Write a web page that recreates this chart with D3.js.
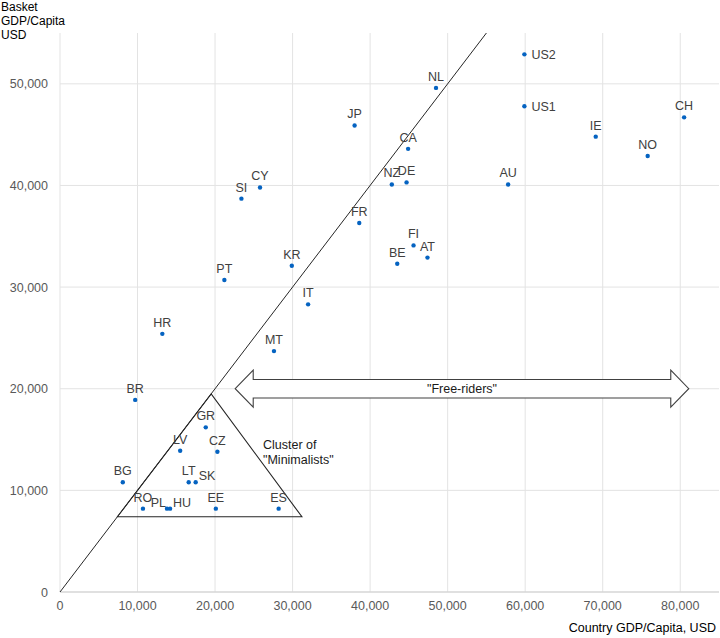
<!DOCTYPE html>
<html>
<head>
<meta charset="utf-8">
<script src="https://cdn.jsdelivr.net/npm/d3@7"></script>
<style>
  body { margin: 0; background: #fff; }
  svg { display: block; font-family: "Liberation Sans", Arial, sans-serif; }
</style>
</head>
<body>
<div id="chart"></div>
<script>
// Country GDP per capita vs basket GDP per capita (USD)
const countries  = ['US2', 'NL', 'US1', 'CH', 'JP', 'IE', 'CA', 'NO', 'DE', 'NZ', 'AU', 'CY', 'SI', 'FR', 'FI', 'AT', 'BE',
                    'KR', 'PT', 'IT', 'HR', 'MT', 'BR', 'GR', 'LV', 'CZ', 'BG', 'LT', 'SK', 'RO', 'PL', 'HU', 'EE', 'ES'];
const countryGdp = [59900, 48500, 59900, 80500, 38000, 69100, 44900, 75800, 44700, 42800, 57800, 25800, 23400, 38600, 45600, 47400, 43500,
                    29900, 21200, 32000, 13200, 27600, 9700, 18800, 15500, 20300, 8100, 16600, 17500, 10700, 13800, 14200, 20100, 28200];
const basketGdp  = [52900, 49600, 47800, 46700, 45900, 44800, 43600, 42900, 40300, 40100, 40100, 39800, 38700, 36300, 34100, 32900, 32300,
                    32100, 30700, 28300, 25400, 23700, 18900, 16200, 13900, 13800, 10800, 10800, 10800, 8200, 8200, 8200, 8200, 8200];

const xTicks = [0, 10000, 20000, 30000, 40000, 50000, 60000, 70000, 80000];
const yTicks = [0, 10000, 20000, 30000, 40000, 50000];

// annotations (data units)
const parityLine = [[0, 0], [55000, 55000]];
const minimalistTriangle = [[7400, 7400], [19500, 19500], [31200, 7400]];
const freeRiderArrow = { from: 22600, to: 81100, level: 20000 };

const rightLabels = ['US1', 'US2', 'SK', 'HU'];
const leftLabels = ['PL'];

const W = 720, H = 638;
const margin = { top: 33, right: 1, bottom: 46, left: 60 };

const svg = d3.select('#chart').append('svg')
  .attr('width', W).attr('height', H);

const x = d3.scaleLinear().domain([0, 85000]).range([margin.left, W - margin.right]);
const y = d3.scaleLinear().domain([0, 55000]).range([H - margin.bottom, margin.top]);
const fmt = d3.format(',');

// Grid lines
svg.append('g')
  .selectAll('line')
  .data(xTicks)
  .join('line')
  .attr('x1', d => x(d)).attr('x2', d => x(d))
  .attr('y1', y(55000)).attr('y2', y(0))
  .attr('stroke', '#e3e3e3').attr('stroke-width', 1);

svg.append('g')
  .selectAll('line')
  .data(yTicks.filter(d => d > 0))
  .join('line')
  .attr('x1', x(0)).attr('x2', x(85000))
  .attr('y1', d => y(d)).attr('y2', d => y(d))
  .attr('stroke', '#e3e3e3').attr('stroke-width', 1);

// x axis baseline
svg.append('line')
  .attr('x1', x(0)).attr('x2', x(85000))
  .attr('y1', y(0)).attr('y2', y(0))
  .attr('stroke', '#d6d6d6').attr('stroke-width', 1.5);

// Tick labels
svg.append('g')
  .selectAll('text')
  .data(xTicks)
  .join('text')
  .attr('x', d => x(d)).attr('y', y(0) + 18)
  .attr('text-anchor', 'middle')
  .style('fill', '#595959').style('font-size', '12.5px')
  .text(d => fmt(d));

svg.append('g')
  .selectAll('text')
  .data(yTicks)
  .join('text')
  .attr('x', x(0) - 12).attr('y', d => y(d) + 4.5)
  .attr('text-anchor', 'end')
  .style('fill', '#595959').style('font-size', '12.5px')
  .text(d => fmt(d));

// Axis titles
svg.append('text')
  .attr('x', W - 4).attr('y', H - 6)
  .attr('text-anchor', 'end')
  .style('fill', '#000').style('font-size', '12.5px')
  .text('Country GDP/Capita, USD');

svg.append('text')
  .style('fill', '#000').style('font-size', '12px')
  .selectAll('tspan')
  .data(['Basket', 'GDP/Capita', 'USD'])
  .join('tspan')
  .attr('x', 1)
  .attr('y', (d, i) => 10.5 + i * 14)
  .text(d => d);

// Parity line
svg.append('line')
  .attr('x1', x(parityLine[0][0])).attr('y1', y(parityLine[0][1]))
  .attr('x2', x(parityLine[1][0])).attr('y2', y(parityLine[1][1]))
  .attr('stroke', '#262626').attr('stroke-width', 1);

// Cluster triangle
svg.append('path')
  .attr('d', d3.line().x(d => x(d[0])).y(d => y(d[1]))(minimalistTriangle) + 'Z')
  .attr('fill', 'none')
  .attr('stroke', '#262626').attr('stroke-width', 1.1);

svg.append('text')
  .style('fill', '#1a1a1a').style('font-size', '12.5px')
  .selectAll('tspan')
  .data(['Cluster of', '"Minimalists"'])
  .join('tspan')
  .attr('x', 263)
  .attr('y', (d, i) => 449 + i * 15)
  .text(d => d);

// Double arrow for free-riders
const ax0 = x(freeRiderArrow.from), ax1 = x(freeRiderArrow.to), ay = y(freeRiderArrow.level);
const headLen = 18, headH = 18.5, shaftH = 9.2;
const arrowPts = [
  [ax0, ay], [ax0 + headLen, ay - headH], [ax0 + headLen, ay - shaftH],
  [ax1 - headLen, ay - shaftH], [ax1 - headLen, ay - headH], [ax1, ay],
  [ax1 - headLen, ay + headH], [ax1 - headLen, ay + shaftH],
  [ax0 + headLen, ay + shaftH], [ax0 + headLen, ay + headH]
];
svg.append('polygon')
  .attr('points', arrowPts.map(p => p.join(',')).join(' '))
  .attr('fill', '#fff')
  .attr('stroke', '#404040').attr('stroke-width', 1.1);

svg.append('text')
  .attr('x', (ax0 + ax1) / 2).attr('y', ay + 4.5)
  .attr('text-anchor', 'middle')
  .style('fill', '#1a1a1a').style('font-size', '12.5px')
  .text('"Free-riders"');

// Points
const points = countries.map((c, i) => ({ code: c, cx: countryGdp[i], cy: basketGdp[i] }));

svg.append('g')
  .selectAll('circle')
  .data(points)
  .join('circle')
  .attr('cx', d => x(d.cx))
  .attr('cy', d => y(d.cy))
  .attr('r', 2.2)
  .attr('fill', '#0563c1');

svg.append('g')
  .selectAll('text')
  .data(points)
  .join('text')
  .attr('x', d => {
    if (rightLabels.includes(d.code)) return x(d.cx) + (d.code.startsWith('US') ? 7 : 3);
    if (leftLabels.includes(d.code)) return x(d.cx) - 1;
    return x(d.cx);
  })
  .attr('y', d => {
    if (d.code.startsWith('US')) return y(d.cy) + 5;
    if (rightLabels.includes(d.code) || leftLabels.includes(d.code)) return y(d.cy) - 2;
    return y(d.cy) - 7;
  })
  .attr('text-anchor', d => rightLabels.includes(d.code) ? 'start' : leftLabels.includes(d.code) ? 'end' : 'middle')
  .style('fill', '#404040').style('font-size', '12.5px')
  .text(d => d.code);
</script>
</body>
</html>
